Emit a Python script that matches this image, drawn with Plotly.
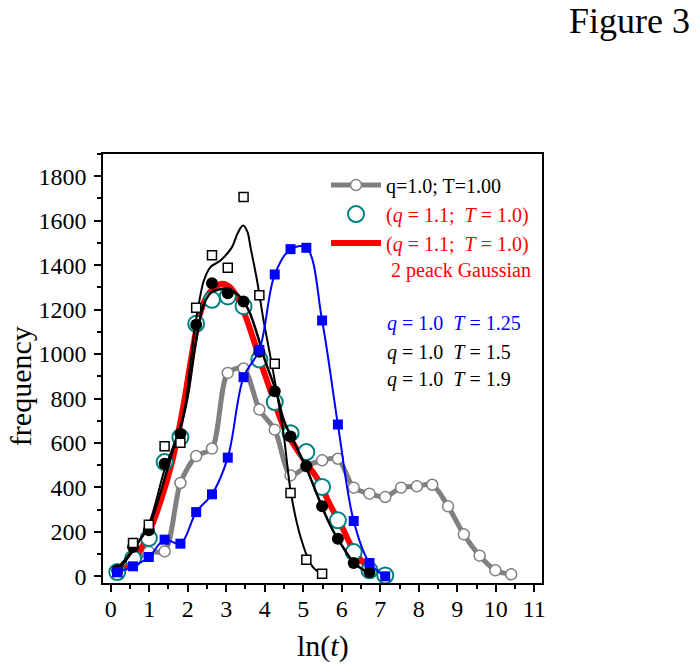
import plotly.graph_objects as go

FONT = "Liberation Serif, Times New Roman, serif"

# common ln(t) bins
ln_t = [0.17, 0.58, 0.99, 1.40, 1.81, 2.22, 2.63, 3.04, 3.45, 3.86, 4.26, 4.67, 5.08,
        5.49, 5.90, 6.31, 6.72, 7.13, 7.54, 7.95, 8.35, 8.76, 9.17, 9.58, 9.99, 10.40]

# q=1.0; T=1.00 (gray)
gray_y = [15, 60, 110, 112, 420, 541, 575, 915, 935, 750, 660, 454, 495,
          522, 529, 399, 372, 357, 399, 405, 412, 315, 189, 93, 27, 9]

# q=1.1; T=1.0 (teal open circles)
teal_y = [19, 80, 172, 514, 626, 1136, 1244, 1259, 1215, 976, 784, 644, 559,
          402, 252, 109, 27, 4]

# 2-peak Gaussian fit (red)
red_x = [0.1, 0.4, 0.7, 1.0, 1.3, 1.6, 1.9, 2.1, 2.3, 2.5, 2.7, 2.9, 3.1, 3.3, 3.5,
         3.7, 3.9, 4.1, 4.3, 4.5, 4.8, 5.1, 5.4, 5.7, 6.0, 6.3, 6.6, 6.9, 7.1]
red_y = [15, 40, 100, 200, 340, 520, 780, 990, 1170, 1260, 1300, 1316, 1300, 1250, 1170,
         1070, 960, 860, 760, 670, 580, 505, 430, 320, 225, 120, 55, 20, 8]

# q=1.0 T=1.25 (blue squares)
blue_y = [19, 45, 87, 165, 147, 289, 369, 534, 896, 1019, 1358, 1472, 1478,
          1151, 683, 249, 60, 0]

# q=1.0 T=1.5 (open squares) and its fit
sq_y = [20, 150, 232, 585, 601, 1208, 1445, 1388, 1706, 1265, 956, 375, 75, 12]
sq_fit_x = [0.17, 0.6, 1.0, 1.4, 1.7, 1.9, 2.07, 2.2, 2.32, 2.42, 2.59, 2.85, 3.15, 3.3,
            3.44, 3.55, 3.63, 3.8, 3.97, 4.15, 4.32, 4.49, 4.68, 4.93, 5.19, 5.35, 5.51]
sq_fit_y = [20, 120, 240, 480, 620, 732, 956, 1136, 1256, 1331, 1391, 1421, 1481, 1545,
            1578, 1550, 1481, 1331, 1151, 986, 821, 640, 375, 177, 57, 25, 12]

# q=1.0 T=1.9 (filled circles) and its fit
dot_y = [27, 132, 207, 507, 641, 1132, 1319, 1274, 1236, 1010, 833, 629, 496,
         315, 169, 60, 19]
dot_fit_x = [0.1, 0.4, 0.7, 1.0, 1.3, 1.6, 1.8, 2.0, 2.2, 2.4, 2.6, 2.8, 3.0, 3.2, 3.4,
             3.6, 3.8, 4.0, 4.3, 4.5, 4.8, 5.1, 5.4, 5.7, 6.0, 6.3, 6.6, 6.8]
dot_fit_y = [20, 80, 150, 230, 380, 560, 660, 810, 1040, 1215, 1275, 1290, 1294, 1280,
             1250, 1190, 1091, 975, 830, 700, 590, 480, 350, 230, 140, 65, 25, 12]

x_ticks = list(range(0, 12))
y_ticks = list(range(0, 2000, 200))

fig = go.Figure()

fig.add_trace(go.Scatter(
    x=ln_t[:len(gray_y)], y=gray_y, mode="lines+markers",
    line=dict(color="#808080", width=5, shape="spline", smoothing=0.8),
    marker=dict(symbol="circle", size=11, color="white", line=dict(color="#808080", width=1.5)),
    name="q=1.0; T=1.00", legendrank=1, showlegend=True))

fig.add_trace(go.Scatter(
    x=red_x, y=red_y, mode="lines",
    line=dict(color="#ff0000", width=6, shape="spline"),
    name="<span style='color:#ff0000'>(<i>q</i> = 1.1;\u00a0 <i>T</i> = 1.0)</span><br>"
         "<span style='color:#ff0000'>\u00a02 peack Gaussian</span>",
    legendrank=3, showlegend=True))

fig.add_trace(go.Scatter(
    x=ln_t[:len(teal_y)], y=teal_y, mode="markers",
    marker=dict(symbol="circle", size=16, color="white", line=dict(color="#008080", width=2)),
    name="<span style='color:#ff0000'>(<i>q</i> = 1.1;\u00a0 <i>T</i> = 1.0)</span>",
    legendrank=2, showlegend=True))

fig.add_trace(go.Scatter(
    x=dot_fit_x, y=dot_fit_y, mode="lines",
    line=dict(color="black", width=2.5, shape="spline"), showlegend=False))
fig.add_trace(go.Scatter(
    x=ln_t[:len(dot_y)], y=dot_y, mode="markers",
    marker=dict(symbol="circle", size=12, color="black"), showlegend=False))

fig.add_trace(go.Scatter(
    x=sq_fit_x, y=sq_fit_y, mode="lines",
    line=dict(color="black", width=2, shape="spline"), showlegend=False))
fig.add_trace(go.Scatter(
    x=ln_t[:len(sq_y)], y=sq_y, mode="markers",
    marker=dict(symbol="square", size=9, color="white", line=dict(color="black", width=1.5)),
    showlegend=False))

fig.add_trace(go.Scatter(
    x=ln_t[:len(blue_y)], y=blue_y, mode="lines+markers",
    line=dict(color="#0000ff", width=2, shape="spline"),
    marker=dict(symbol="square", size=10, color="#0000ff"), showlegend=False))

axis_common = dict(
    showline=True, linecolor="black", linewidth=1.5, mirror=True,
    ticks="outside", ticklen=7, tickwidth=1.5, tickcolor="black",
    showgrid=False, zeroline=False,
    tickfont=dict(family=FONT, size=24, color="black"),
)

fig.update_xaxes(range=[-0.2, 11.2], tickvals=x_ticks, ticklabelstandoff=-4,
                 minor=dict(dtick=0.5, ticklen=4, tickwidth=1.5, tickcolor="black", ticks="outside"),
                 **axis_common)
fig.update_yaxes(range=[-30, 1900], tickvals=y_ticks, ticklabelstandoff=3,
                 minor=dict(dtick=100, ticklen=4, tickwidth=1.5, tickcolor="black", ticks="outside"),
                 **axis_common)

ann = []
ann.append(dict(text="Figure 3", xref="paper", yref="paper", x=1.342, y=1.31,
                xanchor="right", yanchor="middle", showarrow=False,
                font=dict(family=FONT, size=36, color="black")))
ann.append(dict(text="frequency", xref="paper", yref="paper", x=-0.188, y=0.46,
                textangle=-90, xanchor="center", yanchor="middle", showarrow=False,
                font=dict(family=FONT, size=30, color="black")))
ann.append(dict(text="ln(<i>t</i>)", xref="paper", yref="paper", x=0.5, y=-0.148,
                xanchor="center", yanchor="middle", showarrow=False,
                font=dict(family=FONT, size=30, color="black")))
label_rows = [
    ("<i>q</i> = 1.0\u00a0 <i>T</i> = 1.25", "#0000ff", 0.605),
    ("<i>q</i> = 1.0\u00a0 <i>T</i> = 1.5", "black", 0.538),
    ("<i>q</i> = 1.0\u00a0 <i>T</i> = 1.9", "black", 0.475),
]
for txt, col, yy in label_rows:
    ann.append(dict(text=txt, xref="paper", yref="paper", x=0.6426, y=yy,
                    xanchor="left", yanchor="middle", showarrow=False,
                    font=dict(family=FONT, size=20, color=col)))

fig.update_layout(
    width=699, height=664,
    margin=dict(l=103, r=157, t=154, b=81),
    paper_bgcolor="white", plot_bgcolor="white",
    font=dict(family=FONT, size=20, color="black"),
    showlegend=True,
    legend=dict(x=0.508, y=0.973, xanchor="left", yanchor="top",
                bgcolor="rgba(0,0,0,0)", borderwidth=0,
                itemwidth=50, valign="top", tracegroupgap=0,
                font=dict(family=FONT, size=20, color="black")),
    annotations=ann,
)

# remove the default 8px page margin so the figure fills the window exactly
fig.write_html("out.html", config={"displayModeBar": False},
               post_script="document.body.style.margin='0px';")
